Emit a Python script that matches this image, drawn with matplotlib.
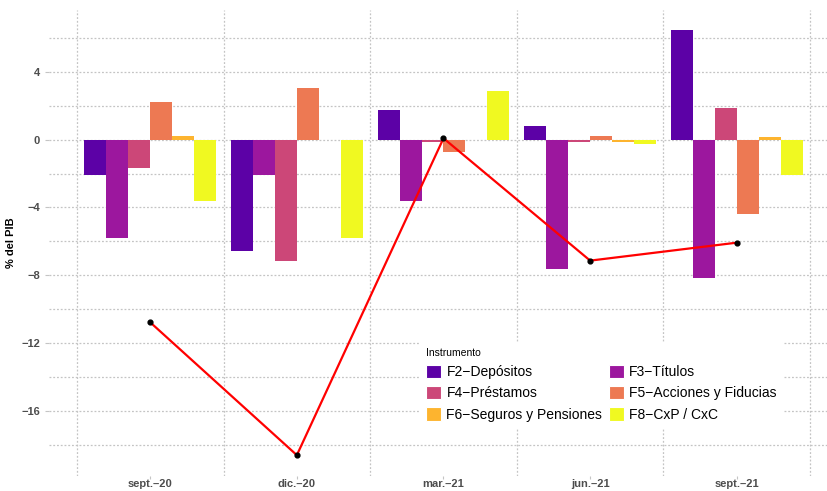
import matplotlib
matplotlib.use("Agg")
import matplotlib.pyplot as plt
import numpy as np
from matplotlib.patches import Patch

# ----------------------------------------------------------- data
quarters = ["sept.\u201320", "dic.\u201320", "mar.\u201321", "jun.\u201321", "sept.\u201321"]
instruments = ["F2\u2212Depósitos", "F3\u2212Títulos", "F4\u2212Préstamos",
               "F5\u2212Acciones y Fiducias", "F6\u2212Seguros y Pensiones", "F8\u2212CxP / CxC"]
colors = ["#5c01a6", "#9c179e", "#cc4778", "#ed7953", "#fdb42f", "#f0f921"]

f2 = [-2.10, -6.57, 1.76, 0.82, 6.47]
f3 = [-5.82, -2.10, -3.63, -7.63, -8.16]
f4 = [-1.70, -7.18, -0.16, -0.16, 1.88]
f5 = [2.24, 3.06, -0.75, 0.24, -4.41]
f6 = [0.24, -0.05, -0.02, -0.16, 0.18]
f8 = [-3.63, -5.82, 2.88, -0.24, -2.06]
total = [-10.78, -18.62, 0.08, -7.14, -6.08]

series = [f2, f3, f4, f5, f6, f8]

plt.rcParams["font.family"] = ["Liberation Sans", "DejaVu Sans"]

fig = plt.figure(figsize=(8.27, 4.91), dpi=100)
ax = fig.add_axes([49 / 827, 1 - 476 / 491, 1 - 49 / 827, (476 - 10) / 491])

x = np.arange(len(quarters))
w = 0.9 / len(series)
for j, (vals, col) in enumerate(zip(series, colors)):
    ax.bar(x + (j - 2.5) * w, vals, width=w, color=col, zorder=2)

ax.plot(x, total, color="red", lw=1.6, zorder=3)
ax.scatter(x, total, color="black", s=12, zorder=4)

# ----------------------------------------------------------- axes / grid
ax.set_xlim(-0.69, 4.615)
ax.set_ylim(-19.85, 7.65)
ax.set_yticks(np.arange(-16, 5, 4))
ax.set_yticklabels([str(v).replace("-", "\u2212") for v in range(-16, 5, 4)])
ax.set_yticks(np.arange(-18, 7, 4), minor=True)
ax.set_xticks(x)
ax.set_xticklabels(quarters)
ax.set_xticks(np.arange(-0.5, 5, 1), minor=True)

grid_kw = dict(color="#c4c4c4", lw=0.9, ls=(0, (1.5, 1.5)), zorder=0)
ax.grid(True, axis="y", which="both", **grid_kw)
ax.grid(True, axis="x", which="minor", **grid_kw)
ax.grid(False, axis="x", which="major")
ax.set_axisbelow(True)
for s in ax.spines.values():
    s.set_visible(False)

ax.tick_params(axis="both", which="major", length=3, color="#c4c4c4",
               labelcolor="#4d4d4d", labelsize=8)
ax.tick_params(axis="both", which="minor", length=0)
ax.tick_params(axis="x", which="major", length=2, pad=0.5)
for lab in ax.get_xticklabels() + ax.get_yticklabels():
    lab.set_fontweight("bold")
ax.set_ylabel("% del PIB", fontsize=8, fontweight="bold", labelpad=4)

# legend filled row by row, like the original
order = [0, 2, 4, 1, 3, 5]
handles = [Patch(facecolor=colors[i], edgecolor="white", lw=0.8) for i in order]
labels = [instruments[i] for i in order]
leg = ax.legend(handles, labels, ncol=2, title="Instrumento",
                loc="upper left", bbox_to_anchor=(420 / 827, 1 - 342 / 491),
                bbox_transform=fig.transFigure, frameon=True, fancybox=False,
                fontsize=10.0, title_fontsize=7.5, alignment="left",
                handlelength=1.1, handleheight=1.1, handletextpad=0.4,
                labelspacing=0.5, columnspacing=0.45, borderpad=0.4,
                borderaxespad=0)
leg.get_frame().set_facecolor("white")
leg.get_frame().set_edgecolor("white")
leg.get_frame().set_alpha(1)

fig.savefig("out.png", dpi=100)
